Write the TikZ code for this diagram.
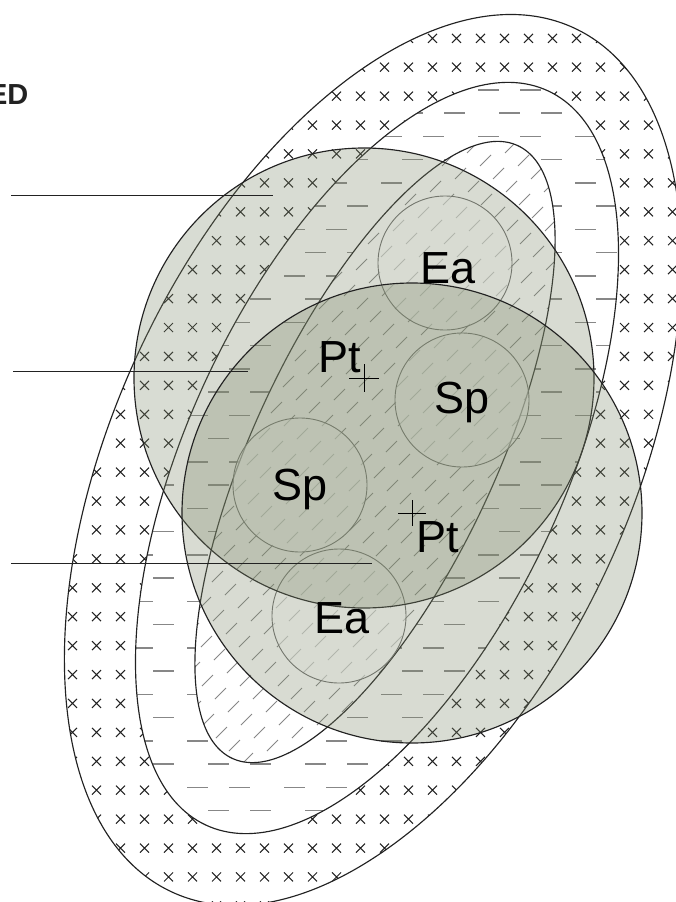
\documentclass[tikz,border=0pt]{standalone}
\usepackage{fontspec}
\setmainfont{Liberation Sans}
\definecolor{circfill}{RGB}{127,138,108}
\definecolor{inkdark}{RGB}{34,34,34}
\definecolor{dashgrey}{RGB}{135,135,135}
\definecolor{hatchgrey}{RGB}{135,135,135}
\definecolor{smallline}{RGB}{110,110,110}
\begin{document}
\begin{tikzpicture}[x=1pt,y=-1pt,
  xmark/.style={line width=1.05pt, draw=inkdark},
  dashln/.style={line width=1.4pt, draw=dashgrey},
  hatchln/.style={line width=0.95pt, draw=hatchgrey},
  ellout/.style={line width=1.15pt, draw=inkdark},
  bigcirc/.style={line width=1.15pt, draw=inkdark, fill=circfill, fill opacity=0.3},
  smallcirc/.style={line width=0.9pt, draw=smallline, fill=white, fill opacity=0.55},
  lbl/.style={font=\fontsize{45}{50}\selectfont, anchor=base, inner sep=0pt},
  leader/.style={line width=1pt, draw=inkdark},
  centremark/.style={line width=0.9pt, draw=black}]
\useasboundingbox (0,0) rectangle (675,902);
\coordinate (cO) at (373,460);
\coordinate (cM) at (377,458);
\coordinate (cI) at (375,452);
% outer ring: x marks
\begin{scope}
\clip[rotate around={65:(cO)}] (cO) ellipse [x radius=476.5pt, y radius=258pt];
\foreach \i in {0,...,28} {
  \foreach \j in {0,...,31} {
    \draw[xmark] ({24*\i+0.5-4.5},{38.3+28.92*\j-4.5}) -- ++(9,9) ++(-9,0) -- ++(9,-9);
  }
}
\end{scope}
% middle ring: dashes
\fill[white, rotate around={65:(cM)}] (cM) ellipse [x radius=405pt, y radius=188pt];
\begin{scope}
\clip[rotate around={65:(cM)}] (cM) ellipse [x radius=405pt, y radius=188pt];
\foreach \k in {-1,...,17} {
  \foreach \m in {-2,...,6} {
    \draw[dashln] ({132+97*\m},{90+46.5*\k}) -- ++(21,0);
    \draw[dashln] ({187+97*\m},{90+46.5*\k}) -- ++(21,0);
    \draw[dashln] ({153+97*\m},{113+46.5*\k}) -- ++(21,0);
    \draw[dashln] ({208+97*\m},{113+46.5*\k}) -- ++(21,0);
  }
}
\end{scope}
% inner: hatch
\fill[white, rotate around={65:(cI)}] (cI) ellipse [x radius=338pt, y radius=121pt];
\begin{scope}
\clip[rotate around={65:(cI)}] (cI) ellipse [x radius=338pt, y radius=121pt];
\foreach \r in {0,...,49} {
  \pgfmathsetmacro\hy{140+13*\r}
  \pgfmathsetmacro\hx{mod(13*\r,38)+150}
  \foreach \c in {0,...,11} {
    \draw[hatchln] ({\hx+38*\c},\hy) -- ++(11,-11);
  }
}
\end{scope}
% ellipse outlines
\draw[ellout, rotate around={65:(cO)}] (cO) ellipse [x radius=476.5pt, y radius=258pt];
\draw[ellout, rotate around={65:(cM)}] (cM) ellipse [x radius=405pt, y radius=188pt];
\draw[ellout, rotate around={65:(cI)}] (cI) ellipse [x radius=338pt, y radius=121pt];
% small circles
\coordinate (ea1) at (445,263);
\coordinate (sp1) at (462,400);
\coordinate (sp2) at (300,485);
\coordinate (ea2) at (339,616);
\foreach \c in {ea1,sp1,sp2,ea2} {
  \draw[smallcirc] (\c) circle [radius=67pt];
}
% big circles
\coordinate (pt1) at (364,378);
\coordinate (pt2) at (412,513);
\draw[bigcirc] (pt1) circle [radius=230pt];
\draw[bigcirc] (pt2) circle [radius=230pt];
% centre marks
\draw[centremark] ([xshift=-15pt]pt1) -- ([xshift=15pt]pt1) ([yshift=14pt]pt1) -- ([yshift=-14pt]pt1);
\draw[centremark] ([xshift=-14pt]pt2) -- ([xshift=14pt]pt2) ([yshift=13pt]pt2) -- ([yshift=-13pt]pt2);
% labels
\node[lbl] (tEa1) at (448,283) {Ea};
\node[lbl] (tPt1) at (340,372) {Pt};
\node[lbl] (tSp1) at (462,413) {Sp};
\node[lbl] (tSp2) at (300,500) {Sp};
\node[lbl] (tPt2) at (438,552) {Pt};
\node[lbl] (tEa2) at (342,633) {Ea};
% leader lines
\coordinate (l1a) at (11,195);  \coordinate (l1b) at (273,195);
\coordinate (l2a) at (13,371);  \coordinate (l2b) at (248,371);
\coordinate (l3a) at (11,563);  \coordinate (l3b) at (372,563);
\draw[leader] (l1a) -- (l1b);
\draw[leader] (l2a) -- (l2b);
\draw[leader] (l3a) -- (l3b);
% title, cut at the left edge as in the reference
\node[font=\bfseries\fontsize{29}{32}\selectfont, text=inkdark, anchor=base east, inner sep=0pt] (title) at (28.5,104) {ED};
\end{tikzpicture}
\end{document}
